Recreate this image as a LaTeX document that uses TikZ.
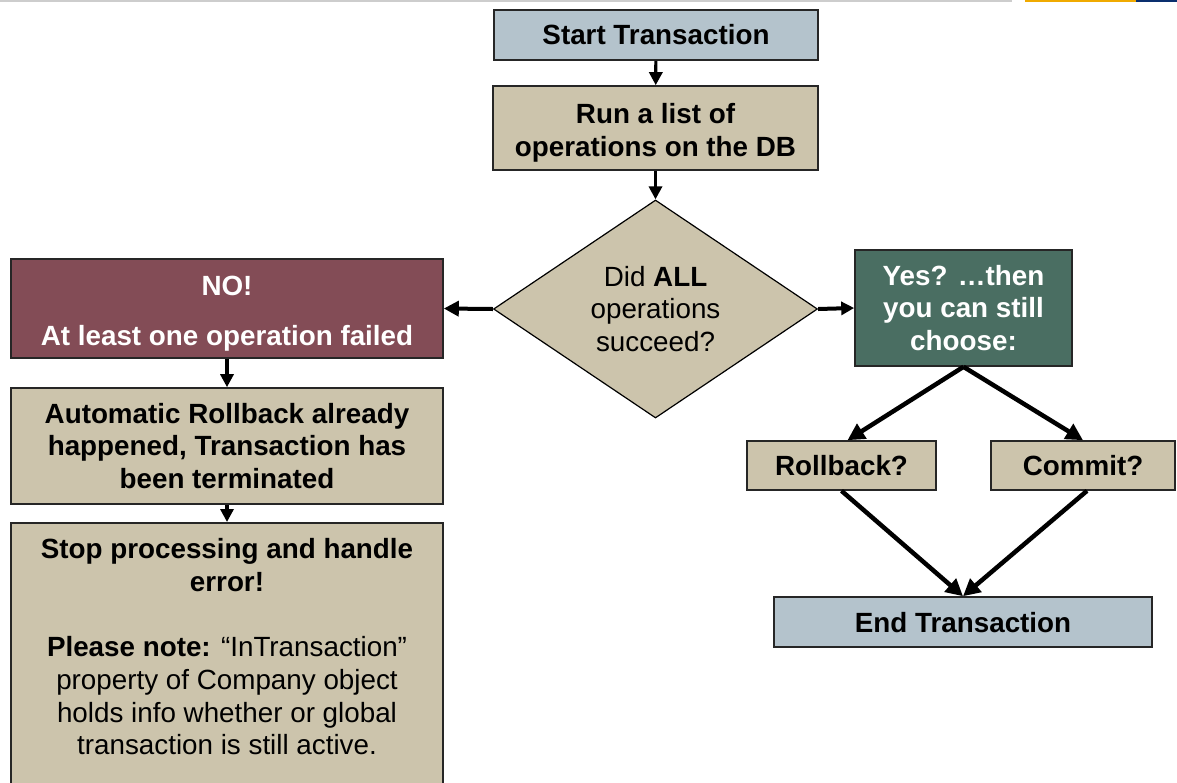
\documentclass[tikz,border=0pt]{standalone}
\usepackage{fontspec}
\setmainfont{Liberation Sans}
\usetikzlibrary{shapes.geometric,arrows.meta}

\definecolor{slatebox}{RGB}{180,195,204}
\definecolor{tanbox}{RGB}{204,196,172}
\definecolor{failred}{RGB}{131,76,86}
\definecolor{okgreen}{RGB}{74,110,98}
\definecolor{rulegray}{RGB}{205,205,205}
\definecolor{ruleyellow}{RGB}{240,170,0}
\definecolor{ruleblue}{RGB}{10,47,110}

% a tall strut that lowers a text block a little inside its box
\newcommand{\lowerstrut}{\rule{0pt}{29pt}}

\tikzset{
  basebox/.style={draw=black!85, line width=1.6pt, rectangle, inner sep=0pt,
    align=center, font=\fontsize{27.8}{32.8}\selectfont},
  startend/.style={basebox, fill=slatebox, font=\fontsize{27.8}{32.8}\selectfont\bfseries},
  stepbox/.style={basebox, fill=tanbox, font=\fontsize{27.8}{32.8}\selectfont\bfseries},
  failbox/.style={basebox, fill=failred, text=white, font=\fontsize{27.8}{32.8}\selectfont\bfseries},
  okbox/.style={basebox, fill=okgreen, text=white, font=\fontsize{27.8}{32.8}\selectfont\bfseries},
  decision/.style={diamond, draw=black, line width=1.2pt, fill=tanbox, inner sep=0pt,
    shape aspect=1.5, align=center, font=\fontsize{27.8}{32.8}\selectfont},
  flow/.style={line width=3.2pt, -{Triangle[length=13pt,width=13pt]}},
  branch/.style={line width=4.5pt, -{Triangle[length=17pt,width=17pt]}},
}

\begin{document}
\begin{tikzpicture}[x=1pt,y=-1pt]
\useasboundingbox (0,0) rectangle (1177,782);
\clip (0,0) rectangle (1177,782);

% header rule
\fill[rulegray] (0,0) rectangle (1012,2);
\fill[ruleyellow] (1025,0) rectangle (1136,2);
\fill[ruleblue] (1136,0) rectangle (1177,2);

% main column
\node (start) [startend, minimum width=324pt, minimum height=50pt] at (656,35) {Start Transaction};
\node (run) [stepbox, minimum width=325pt, minimum height=84pt] at (655.5,128) {\lowerstrut Run a list of\\operations on the DB};
\node (check) [decision, minimum width=324pt, minimum height=218pt] at (655.5,309) {Did \textbf{ALL}\\operations\\succeed?};

% failure branch
\node (fail) [failbox, minimum width=432pt, minimum height=99pt] at (227,308.5) {\lowerstrut NO!\\[17pt]At least one operation failed};
\node (auto) [stepbox, minimum width=432pt, minimum height=116pt] at (227,446) {Automatic Rollback already\\happened, Transaction has\\been terminated};
\node (stop) [basebox, fill=tanbox, anchor=north, minimum width=432pt, inner ysep=16pt] at (227,522)
  {\parbox[t][262pt][t]{420pt}{\centering
    \textbf{Stop processing and handle}\\\textbf{error!}\\[32pt]
    \textbf{Please note:} “InTransaction”\\property of Company object\\holds info whether or global\\transaction is still active.}};

% success branch
\node (ok) [okbox, minimum width=217pt, minimum height=116pt] at (963.5,308) {Yes? …then\\you can still\\choose:};
\node (rollback) [stepbox, minimum width=189pt, minimum height=49pt] at (841.5,465.5) {Rollback?};
\node (commit) [stepbox, minimum width=184pt, minimum height=49pt] at (1083,465.5) {Commit?};
\node (end) [startend, minimum width=378pt, minimum height=50pt] at (963,622) {\rule{0pt}{22pt}End Transaction};

% connectors
\draw[flow] (start) -- (run);
\draw[flow] (run) -- (check);
\draw[flow, line width=4pt, -{Triangle[length=15pt,width=15pt]}] (check.west) -- (fail.east);
\draw[flow, line width=4pt] (check.east) -- (ok.west);
\draw[flow] (fail) -- (auto);
\draw[flow] (auto) -- (stop);
\draw[branch] (ok.south) -- ([xshift=6pt]rollback.north);
\draw[branch] (ok.south) -- (commit.north);
\draw[branch] (rollback.south) -- (end.north);
\draw[branch] ([xshift=4pt]commit.south) -- (end.north);
\end{tikzpicture}
\end{document}
